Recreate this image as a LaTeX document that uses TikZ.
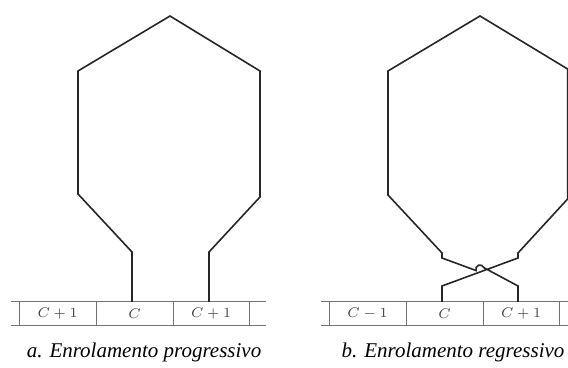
\documentclass[tikz,border=0pt]{standalone}
\usepackage{fontspec}
\setmainfont{Liberation Serif}
\usetikzlibrary{positioning,calc}

\begin{document}
\begin{tikzpicture}[
    x=0.5pt, y=-0.5pt,
    coil/.style={draw=black!85, line width=0.8pt, line join=miter},
    comm/.style={draw=black!55, line width=0.5pt},
    seglabel/.style={font=\scriptsize, text=black!75, inner sep=1pt},
    caption/.style={font=\fontsize{10.5}{12}\selectfont\itshape, inner sep=0pt}
]
    \useasboundingbox (0,0) rectangle (568,368);

    % --- a. progressive winding
    \draw[comm] (11,302) -- (266,302);
    \draw[comm] (11,326) -- (266,326);
    \foreach \sx in {19,96,173,249}
        \draw[comm] (\sx,302) -- (\sx,326);
    \node[seglabel] (aL) at (57.5,314) {$C+1$};
    \node[seglabel] (aC) at (134.5,314) {$C$};
    \node[seglabel] (aR) at (211,314) {$C+1$};

    \draw[coil] (132,302) -- (132,252) -- (78,194) -- (78,71) -- (170,16)
        -- (260,71) -- (260,197) -- (209,252) -- (209,302);

    \node[caption] (capA) at (144,352) {a. Enrolamento progressivo};

    % --- b. regressive winding
    \draw[comm] (321,302) -- (568,302);
    \draw[comm] (321,326) -- (568,326);
    \foreach \sx in {329,406,483,559}
        \draw[comm] (\sx,302) -- (\sx,326);
    \node[seglabel] (bL) at (367.5,314) {$C-1$};
    \node[seglabel] (bC) at (444.5,314) {$C$};
    \node[seglabel] (bR) at (521,314) {$C+1$};

    \coordinate (crs) at (480,272);
    \draw[coil] (442,302) -- (442,286) -- (518,258) -- (518,253)
        -- (567.6,199) -- (567.6,69) -- (480,16) -- (388,71) -- (388,195)
        -- (442,253) -- (442,258) -- ($(crs)+(-3.9,-1.45)$)
        arc[start angle=159.8, end angle=339.8, radius=4.15]
        -- (518,286) -- (518,302);

    \node[caption] (capB) at (453,352) {b. Enrolamento regressivo};
\end{tikzpicture}
\end{document}
